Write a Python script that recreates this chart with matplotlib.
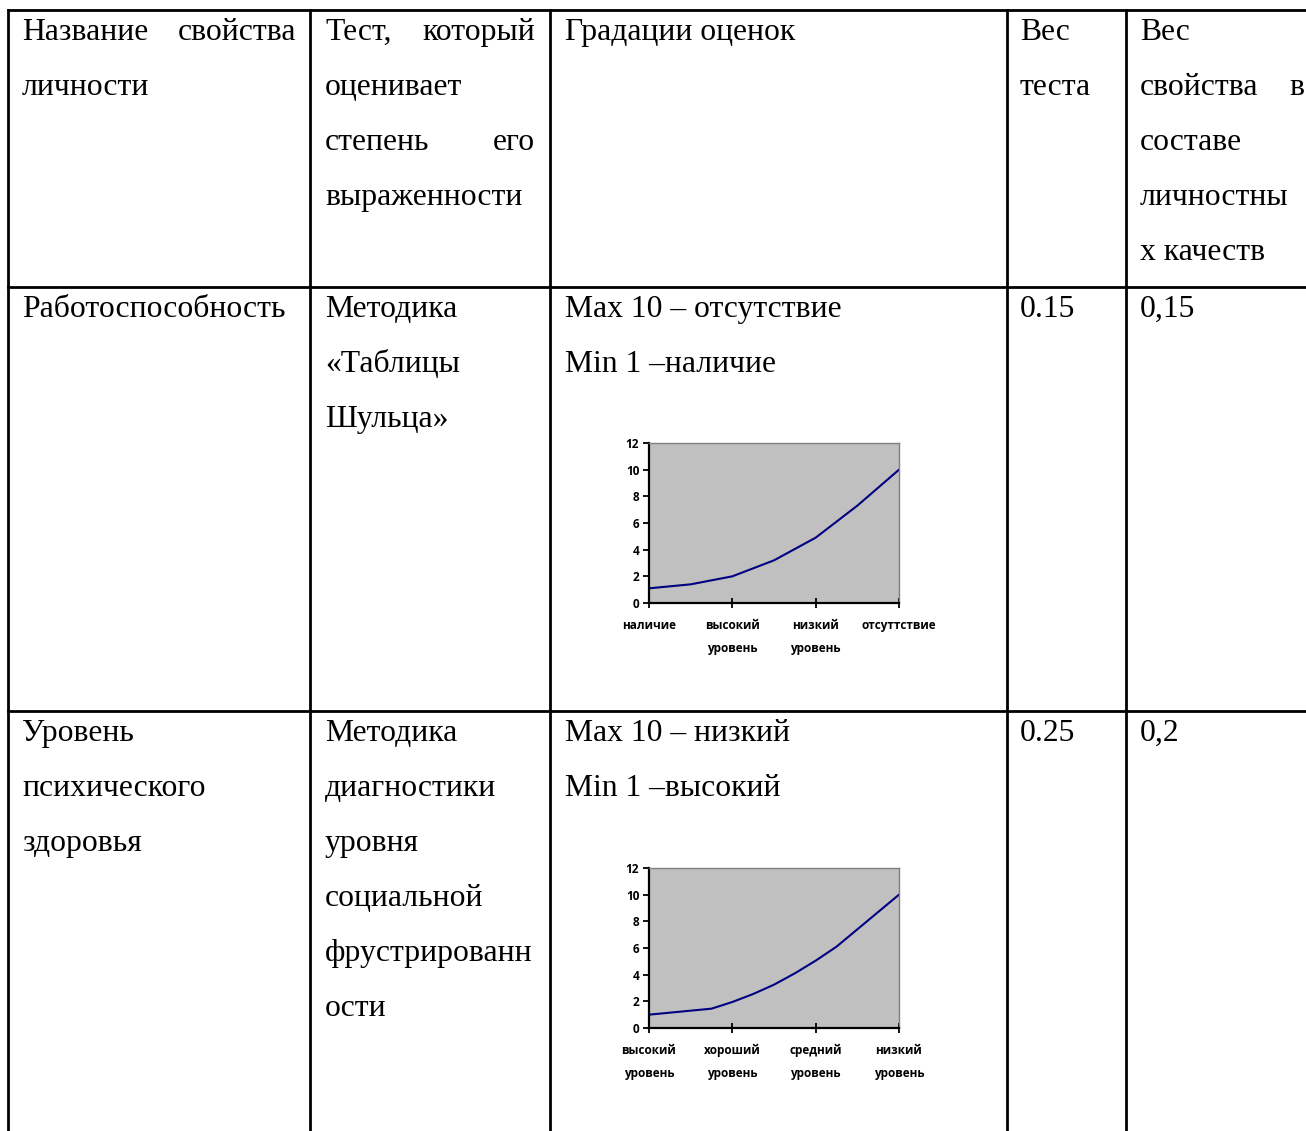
import numpy as np
import matplotlib
matplotlib.use("Agg")
import matplotlib.pyplot as plt

# chart 1: работоспособность (7 points, labels every 2nd point)
work_values = [1.1, 1.4, 2.0, 3.2, 4.9, 7.3, 10.0]
work_labels = ["наличие", "высокий\nуровень", "низкий\nуровень", "отсуттствие"]

# chart 2: психическое здоровье (13 points, labels every 4th point)
health_values = [1.0, 1.15, 1.3, 1.45, 1.95, 2.55, 3.25, 4.1, 5.05, 6.1, 7.4, 8.7, 10.0]
health_labels = ["высокий\nуровень", "хороший\nуровень", "средний\nуровень", "низкий\nуровень"]

W, H = 1306, 1131
SERIF = "Liberation Serif"
FS = 22.8

fig = plt.figure(figsize=(W / 100, H / 100), dpi=100)
fig.patch.set_facecolor("white")

tab = fig.add_axes([0, 0, 1, 1])
tab.set_xlim(0, W)
tab.set_ylim(H, 0)
tab.axis("off")

# table grid
cols = [8, 310, 550, 1007, 1126]
for x in cols:
    tab.plot([x, x], [10, H], color="black", lw=2)
for y in [10, 287, 711]:
    tab.plot([8, W], [y, y], color="black", lw=2)

STEP = 55


def lines(x, y0, rows):
    for i, r in enumerate(rows):
        y = y0 + i * STEP
        if isinstance(r, tuple):
            left, right, x2 = r
            tab.text(x, y, left, fontsize=FS, family=SERIF, va="baseline", ha="left")
            tab.text(x2, y, right, fontsize=FS, family=SERIF, va="baseline", ha="right")
        else:
            tab.text(x, y, r, fontsize=FS, family=SERIF, va="baseline", ha="left")


# header
lines(22, 40, [("Название", "свойства", 296), "личности"])
lines(325, 40, [("Тест,", "который", 535), "оценивает", ("степень", "его", 535), "выраженности"])
lines(565, 40, ["Градации оценок"])
lines(1020, 40, ["Вес", "теста"])
lines(1140, 40, ["Вес", ("свойства", "в", 1304), "составе", "личностны", "х качеств"])

# row 1
lines(22, 317, ["Работоспособность"])
lines(325, 317, ["Методика", "«Таблицы", "Шульца»"])
lines(565, 317, ["Max 10 – отсутствие", "Min 1 –наличие"])
lines(1020, 317, ["0.15"])
lines(1140, 317, ["0,15"])

# row 2
lines(22, 741, ["Уровень", "психического", "здоровья"])
lines(325, 741, ["Методика", "диагностики", "уровня", "социальной", "фрустрированн", "ости"])
lines(565, 741, ["Max 10 – низкий", "Min 1 –высокий"])
lines(1020, 741, ["0.25"])
lines(1140, 741, ["0,2"])


def small_chart(top, values, labels, step):
    left, right, bottom = 649, 899, top + 160
    ax = fig.add_axes([left / W, 1 - bottom / H, (right - left) / W, (bottom - top) / H])
    x = np.arange(len(values))
    ax.plot(x, values, color="#000080", lw=1.5)
    ax.set_facecolor("#C0C0C0")
    ax.set_xlim(0, len(values) - 1)
    ax.set_ylim(0, 12)
    ax.set_yticks(range(0, 13, 2))
    ax.set_xticks(x[::step])
    ax.set_xticklabels(labels, linespacing=2.0)
    for s in ["top", "right"]:
        ax.spines[s].set_color("#808080")
        ax.spines[s].set_linewidth(1)
    for s in ["left", "bottom"]:
        ax.spines[s].set_color("black")
        ax.spines[s].set_linewidth(1.6)
    ax.tick_params(axis="y", direction="out", length=4, width=1.3, pad=3)
    ax.tick_params(axis="x", direction="inout", length=7, width=1.3, pad=8)
    for t in ax.get_xticklabels() + ax.get_yticklabels():
        t.set_family(["Open Sans", "DejaVu Sans"])
        t.set_fontweight("bold")
        t.set_fontsize(8.5)
    for t in ax.get_xticklabels():
        t.set_va("top")


small_chart(443, work_values, work_labels, 2)
small_chart(868, health_values, health_labels, 4)

fig.savefig("out.png", dpi=100)
